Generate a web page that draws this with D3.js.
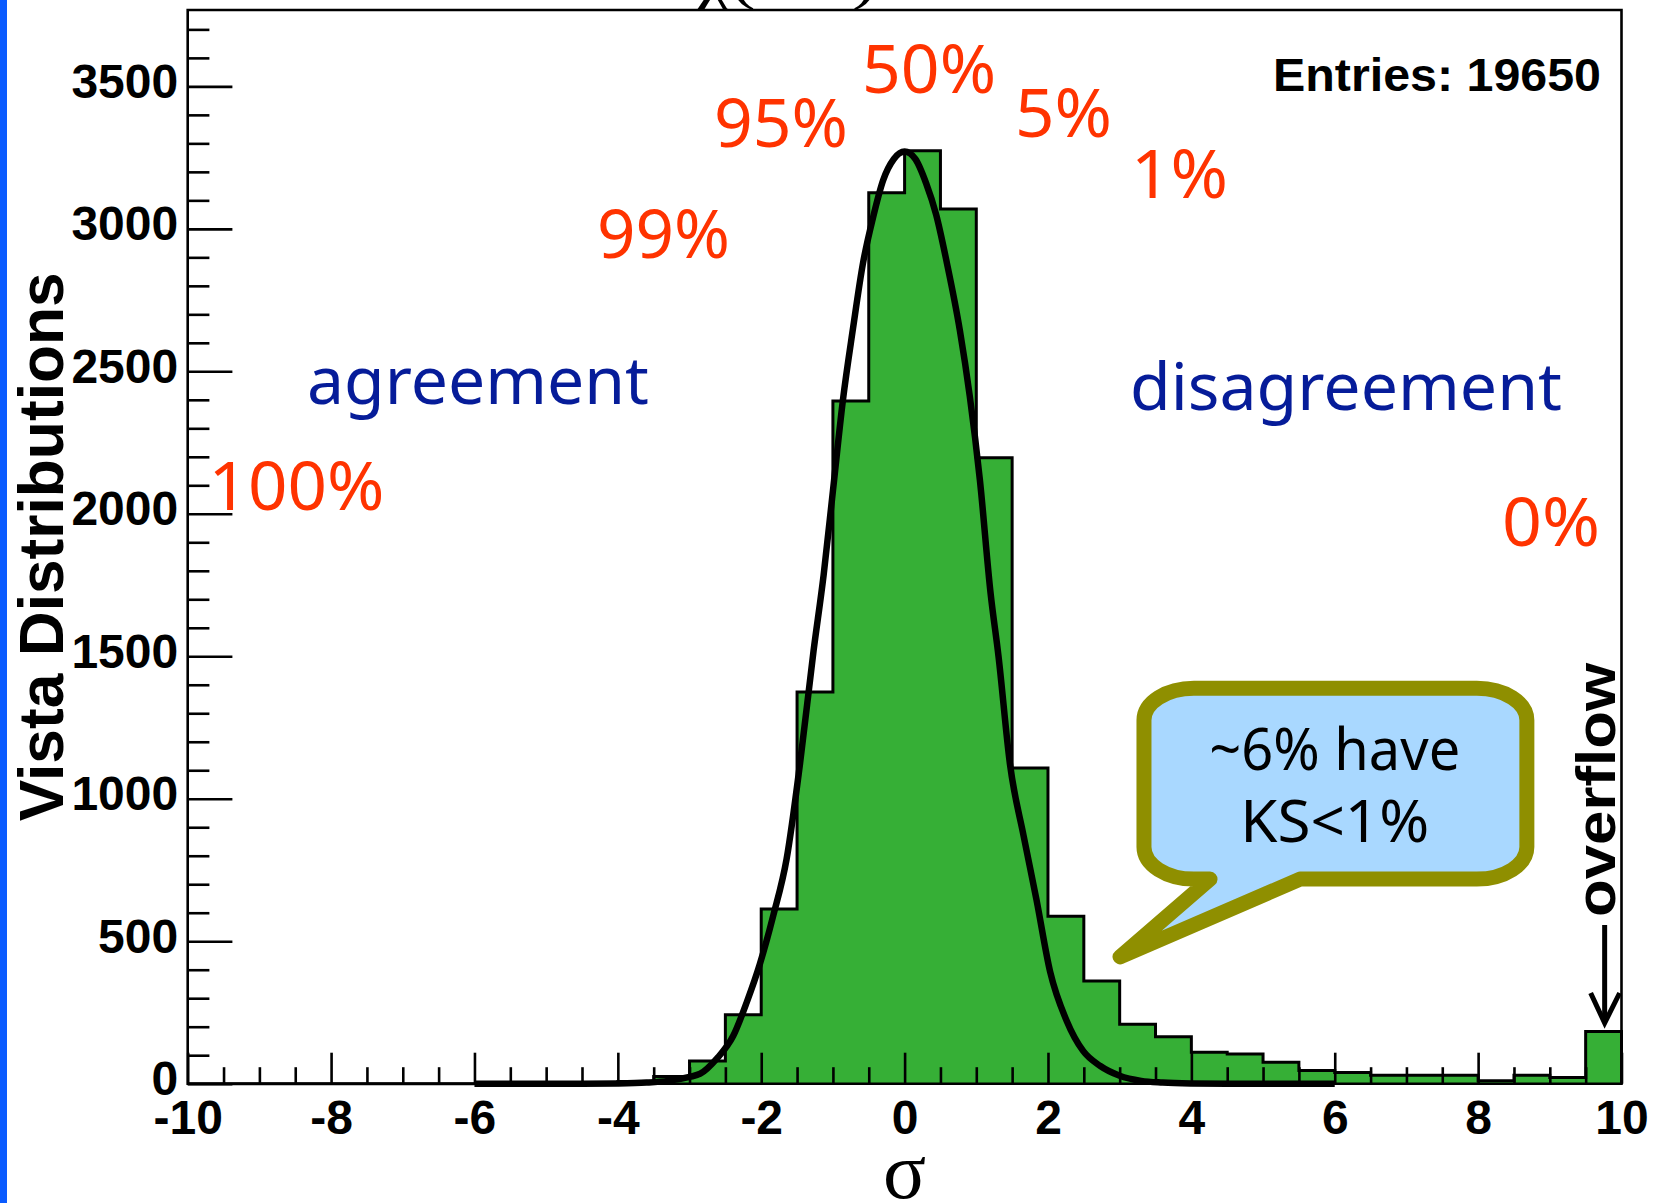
<!DOCTYPE html>
<html>
<head>
<meta charset="utf-8">
<script src="https://cdn.jsdelivr.net/npm/d3@7"></script>
<style>
  html, body { margin: 0; padding: 0; background: #ffffff; overflow: hidden; }
  svg { display: block; }
</style>
</head>
<body>
<svg id="chart" width="1653" height="1203"></svg>
<script>
// ---- histogram of significances (bin lower edges, 0.5 wide) ----
const binLow = [-10, -9.5, -9, -8.5, -8, -7.5, -7, -6.5, -6, -5.5, -5, -4.5,
                -4, -3.5, -3, -2.5, -2, -1.5, -1, -0.5, 0, 0.5, 1, 1.5,
                2, 2.5, 3, 3.5, 4, 4.5, 5, 5.5, 6, 6.5, 7, 7.5, 8, 8.5, 9, 9.5];
const counts = [0, 0, 0, 0, 0, 0, 0, 0, 0, 0, 0, 0,
                8, 25, 80, 242, 613, 1375, 2396, 3127, 3274, 3070, 2197, 1108,
                588, 360, 209, 165, 110, 104, 75, 46, 39, 30, 30, 30, 10, 30, 22, 183];
const binWidth = 0.5;
const entries = 19650;

// ---- fitted curve, sampled points ----
const fitX = [-6, -4.5, -4.0, -3.6, -3.3, -3.0, -2.85, -2.62, -2.39, -2.2,
              -2.02, -1.83, -1.645, -1.46, -1.27, -1.13, -1.0, -0.86, -0.72, -0.58,
              -0.44, -0.3, -0.15, 0, 0.15, 0.3, 0.44, 0.59, 0.77, 0.91,
              1.05, 1.2, 1.31, 1.47, 1.66, 1.84, 2.03, 2.26, 2.49, 2.73,
              3.0, 3.3, 3.6, 4.0, 4.5, 6];
const fitY = [0, 0, 1, 4, 10, 24, 35, 88, 168, 287,
              419, 592, 790, 1121, 1519, 1784, 2080, 2400, 2650, 2880,
              3040, 3170, 3245, 3271, 3245, 3160, 3050, 2880, 2645, 2411,
              2119, 1720, 1500, 1121, 870, 645, 393, 221, 115, 62,
              28, 10, 4, 1, 0, 0];

// ---- axes ----
const xDomain = [-10, 10];
const yDomain = [0, 3768];
const xMajorTicks = [-10, -8, -6, -4, -2, 0, 2, 4, 6, 8, 10];
const yMajorTicks = [0, 500, 1000, 1500, 2000, 2500, 3000, 3500];
const xTitle = "σ";
const yTitle = "Vista Distributions";

// ---- annotations (positions in data units) ----
const pctLabels = ["50%", "95%", "5%", "1%", "99%", "100%", "0%"];
const pctX      = [-0.594, -2.66, 1.54, 3.158, -4.29, -9.71, 8.333];
const pctY      = [3477, 3288, 3321, 3108, 2897, 2013, 1887];
const pctWidth  = [134, 134, 97, 97, 133, 176, 98];

const zoneLabels = ["agreement", "disagreement"];
const zoneX      = [-8.336, 3.144];
const zoneY      = [2385, 2364];
const zoneWidth  = [342, 432];

const calloutLines = ["~6% have", "KS<1%"];

// ---- layout ----
const W = 1653, H = 1203;
const plot = { left: 187.7, right: 1621.5, top: 10, bottom: 1083.7 };
const svg = d3.select("#chart");

const x = d3.scaleLinear().domain(xDomain).range([plot.left, plot.right]);
const y = d3.scaleLinear().domain(yDomain).range([plot.bottom, plot.top]);

const boldSans = "'Liberation Sans', Arial, Helvetica, sans-serif";
const noteFont = "'Noto Sans', 'DejaVu Sans', sans-serif";

// blue strip at the page edge
svg.append("rect").attr("x", 0).attr("y", 0).attr("width", 7).attr("height", H)
  .attr("fill", "#0a5bff");

// title above the frame (only its lowest part falls on the page)
svg.append("text")
  .attr("x", 697).attr("y", -2)
  .attr("font-family", "'Liberation Serif', 'DejaVu Serif', serif")
  .attr("font-size", 60)
  .attr("textLength", 180).attr("lengthAdjust", "spacingAndGlyphs")
  .text("χ(KS)");

// ---- histogram: filled step outline ----
const stepPts = [[xDomain[0], 0]];
binLow.forEach((lo, i) => stepPts.push([lo, counts[i]]));
stepPts.push([binLow[binLow.length - 1] + binWidth, counts[counts.length - 1]]);
stepPts.push([binLow[binLow.length - 1] + binWidth, 0]);

const stepLine = d3.line()
  .x(d => x(d[0]))
  .y(d => y(d[1]))
  .curve(d3.curveStepAfter);

svg.append("path")
  .attr("d", stepLine(stepPts))
  .attr("fill", "#36af36")
  .attr("stroke", "#000")
  .attr("stroke-width", 3)
  .attr("stroke-linejoin", "miter");

// ---- axes ----
const tickStroke = 2.6;

const yMinorTicks = d3.range(0, 3701, 100).filter(v => v % 500 !== 0);
const gyMinor = svg.append("g").attr("transform", `translate(${plot.left},0)`)
  .call(d3.axisLeft(y).tickValues(yMinorTicks).tickSize(-21.7).tickFormat(""));
const gy = svg.append("g").attr("transform", `translate(${plot.left},0)`)
  .call(d3.axisLeft(y).tickValues(yMajorTicks).tickSize(-44.7).tickPadding(9.5)
        .tickFormat(d => String(d)));

const xMinorTicks = d3.range(-10, 10.01, 0.5).filter(v => Math.abs(v % 2) > 1e-9);
const gxMinor = svg.append("g").attr("transform", `translate(0,${plot.bottom})`)
  .call(d3.axisBottom(x).tickValues(xMinorTicks).tickSize(-16.5).tickFormat(""));
const gx = svg.append("g").attr("transform", `translate(0,${plot.bottom})`)
  .call(d3.axisBottom(x).tickValues(xMajorTicks).tickSize(-31)
        .tickFormat(d => String(d)));

[gyMinor, gy, gxMinor, gx].forEach(g => {
  g.select(".domain").remove();
  g.selectAll(".tick line").attr("stroke", "#000").attr("stroke-width", tickStroke);
});
gy.selectAll(".tick text")
  .attr("font-family", boldSans).attr("font-weight", "bold").attr("font-size", 48)
  .attr("fill", "#000").attr("dy", "11px");
gx.selectAll(".tick text")
  .attr("font-family", boldSans).attr("font-weight", "bold").attr("font-size", 48)
  .attr("fill", "#000").attr("y", 50.3).attr("dy", 0);

// frame: left axis, bottom axis, top and right border
const frame = svg.append("g").attr("stroke", "#000").attr("stroke-width", tickStroke)
  .attr("fill", "none");
frame.append("path").attr("d",
  `M${plot.left},${plot.top} H${plot.right} V${plot.bottom} H${plot.left} Z`);

// ---- fitted curve ----
const fitLine = d3.line()
  .x((d, i) => x(fitX[i]))
  .y((d, i) => y(fitY[i]))
  .curve(d3.curveMonotoneX);
svg.append("path")
  .attr("d", fitLine(fitX))
  .attr("fill", "none")
  .attr("stroke", "#000")
  .attr("stroke-width", 6.5)
  .attr("stroke-linejoin", "round");

// ---- axis titles ----
svg.append("text")
  .attr("transform", `translate(63,${(plot.top + plot.bottom) / 2})rotate(-90)`)
  .attr("text-anchor", "middle")
  .attr("font-family", boldSans).attr("font-weight", "bold").attr("font-size", 63)
  .attr("textLength", 549).attr("lengthAdjust", "spacingAndGlyphs")
  .text(yTitle);

svg.append("text")
  .attr("x", x(0)).attr("y", 1198)
  .attr("text-anchor", "middle")
  .attr("font-family", "'Liberation Serif', 'DejaVu Serif', serif")
  .attr("font-size", 80)
  .text(xTitle);

// ---- statistics ----
svg.append("text")
  .attr("x", x(5.139)).attr("y", y(3484))
  .attr("font-family", boldSans).attr("font-weight", "bold").attr("font-size", 47)
  .attr("textLength", 328).attr("lengthAdjust", "spacingAndGlyphs")
  .text("Entries: " + entries);

// ---- percentage labels ----
svg.append("g").selectAll("text").data(pctLabels).join("text")
  .attr("x", (d, i) => x(pctX[i]))
  .attr("y", (d, i) => y(pctY[i]))
  .attr("font-family", noteFont).attr("font-size", 67)
  .attr("fill", "#ff3300")
  .attr("textLength", (d, i) => pctWidth[i]).attr("lengthAdjust", "spacingAndGlyphs")
  .text(d => d);

svg.append("g").selectAll("text").data(zoneLabels).join("text")
  .attr("x", (d, i) => x(zoneX[i]))
  .attr("y", (d, i) => y(zoneY[i]))
  .attr("font-family", noteFont).attr("font-size", 66)
  .attr("fill", "#061c99")
  .attr("textLength", (d, i) => zoneWidth[i]).attr("lengthAdjust", "spacingAndGlyphs")
  .text(d => d);

// ---- callout bubble ----
const bx0 = x(3.339), bx1 = x(8.68), by0 = y(1388), by1 = y(718);
const rx = 50, ry = 32;
const tailL = x(4.26), tailR = x(5.516), tipX = x(3.006), tipY = y(445);
const bubble =
  `M${bx0 + rx},${by0} H${bx1 - rx} A${rx},${ry} 0 0 1 ${bx1},${by0 + ry}` +
  ` V${by1 - ry} A${rx},${ry} 0 0 1 ${bx1 - rx},${by1}` +
  ` H${tailR} L${tipX},${tipY} L${tailL},${by1}` +
  ` H${bx0 + rx} A${rx},${ry} 0 0 1 ${bx0},${by1 - ry}` +
  ` V${by0 + ry} A${rx},${ry} 0 0 1 ${bx0 + rx},${by0} Z`;
svg.append("path")
  .attr("d", bubble)
  .attr("fill", "#a9d8ff")
  .attr("stroke", "#8f8f00")
  .attr("stroke-width", 15)
  .attr("stroke-linejoin", "round");

const calloutWidth = [251, 189];
const calloutY = [1100, 848];
svg.append("g").selectAll("text").data(calloutLines).join("text")
  .attr("x", x(6.0))
  .attr("y", (d, i) => y(calloutY[i]))
  .attr("text-anchor", "middle")
  .attr("font-family", noteFont).attr("font-size", 58)
  .attr("fill", "#000")
  .attr("textLength", (d, i) => calloutWidth[i]).attr("lengthAdjust", "spacingAndGlyphs")
  .text(d => d);

// ---- overflow marker ----
svg.append("text")
  .attr("transform", `translate(${x(9.909)},${y(585)})rotate(-90)`)
  .attr("font-family", boldSans).attr("font-weight", "bold").attr("font-size", 56)
  .attr("textLength", 254).attr("lengthAdjust", "spacingAndGlyphs")
  .text("overflow");

const ax = x(9.765), aTop = y(557), aTip = y(213);
svg.append("line")
  .attr("x1", ax).attr("x2", ax).attr("y1", aTop).attr("y2", aTip - 3)
  .attr("stroke", "#000").attr("stroke-width", 5);
svg.append("path")
  .attr("d", `M${ax - 14},${aTip - 30} L${ax},${aTip} L${ax + 15},${aTip - 30}`)
  .attr("fill", "none").attr("stroke", "#000").attr("stroke-width", 5)
  .attr("stroke-linejoin", "miter");
</script>
</body>
</html>
